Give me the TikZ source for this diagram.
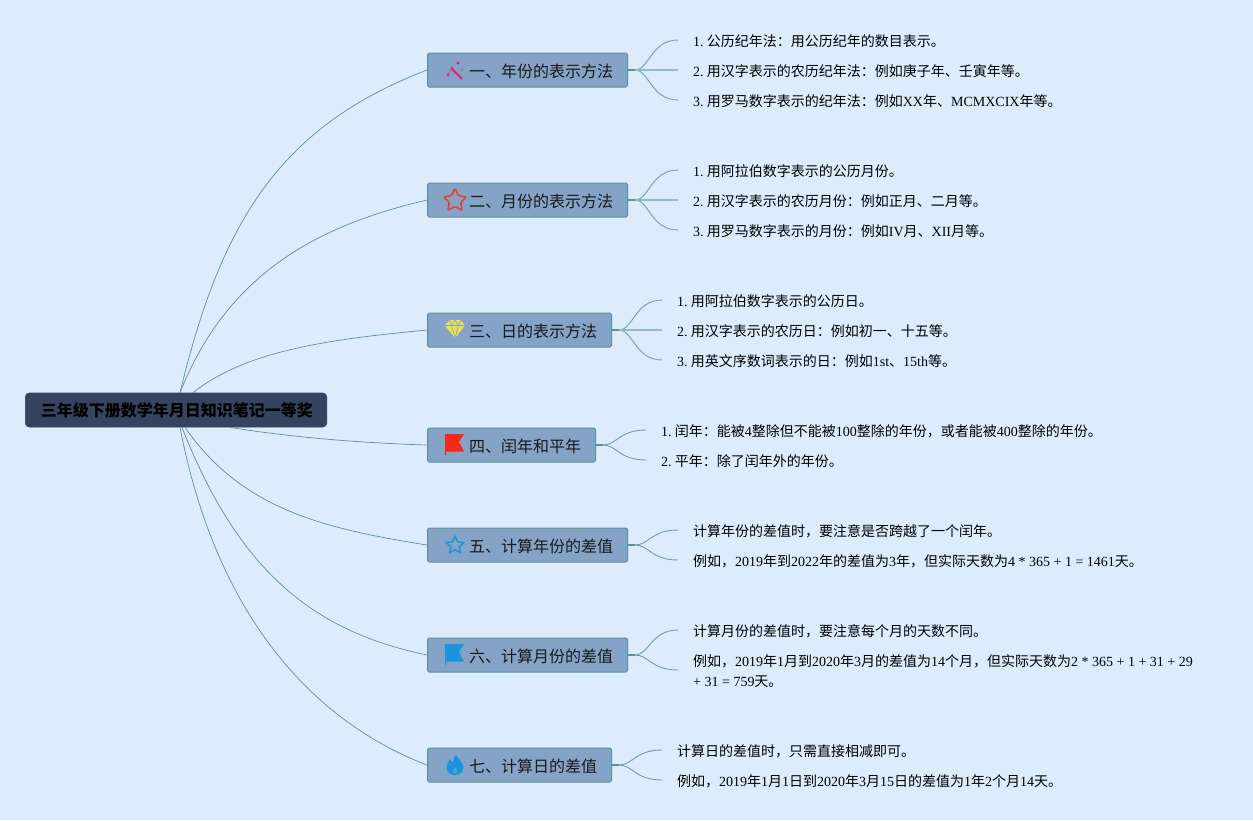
\documentclass[tikz,border=0pt]{standalone}
\usepackage{fontspec}
\usetikzlibrary{calc}
\setmainfont{Liberation Serif}
\newfontfamily\cjkr{Noto Sans CJK SC}
\newcommand{\cj}[1]{{\cjkr #1}}
\newcommand{\nm}[1]{#1\hspace{-1.5pt}}
\newcommand{\tlabel}[1]{\hspace*{26pt}\raisebox{-1pt}[\height][\depth]{#1}\hspace*{-1pt}}
\definecolor{bgc}{HTML}{DCECFD}
\definecolor{boxc}{HTML}{84A3C7}
\definecolor{edgec}{HTML}{5C9194}
\definecolor{twigc}{HTML}{6FA0A4}
\definecolor{midc}{HTML}{93BCBE}
\definecolor{rootc}{HTML}{36445F}
\definecolor{pinkc}{HTML}{E0246E}
\definecolor{redc}{HTML}{E5432F}
\definecolor{yelc}{HTML}{E8E34E}
\definecolor{flagr}{HTML}{F5291A}
\definecolor{bluec}{HTML}{1C93DE}
\tikzset{
  x=1pt,y=-1pt,
  rootbox/.style={draw=rootc,fill=rootc,rounded corners=4pt,line width=.6pt,anchor=west,minimum height=34pt,inner xsep=15.5pt,inner ysep=0pt,font=\fontsize{16}{20}\selectfont\cjkr\bfseries,text=black},
  topic/.style={draw=edgec,fill=boxc,rounded corners=1.5pt,line width=1pt,anchor=west,minimum height=34pt,inner xsep=15.5pt,inner ysep=0pt,font=\fontsize{16}{20}\selectfont\cjkr,text=black!90},
  leaf/.style={anchor=west,inner xsep=15pt,inner ysep=0pt,align=left,font=\fontsize{14}{20}\selectfont,text=black},
  mainline/.style={draw=edgec,line width=.7pt},
  twig/.style={draw=twigc,line width=.9pt},
  stub/.style={draw=edgec,line width=1.5pt},
  midtwig/.style={draw=midc,line width=1.3pt},
}
\begin{document}
\begin{tikzpicture}
\path[fill=bgc] (0,0) rectangle (1253,820);
\useasboundingbox (0,0) rectangle (1253,820);
% nodes
\node[rootbox] (root) at (25,410) {三年级下册数学年月日知识笔记一等奖\hspace*{-1.5pt}};
\node[topic] (t1) at (427,70) {\tlabel{一、年份的表示方法}};
\node[topic] (t2) at (427,200) {\tlabel{二、月份的表示方法}};
\node[topic] (t3) at (427,330) {\tlabel{三、日的表示方法}};
\node[topic] (t4) at (427,445) {\tlabel{四、闰年和平年}};
\node[topic] (t5) at (427,545) {\tlabel{五、计算年份的差值}};
\node[topic] (t6) at (427,655) {\tlabel{六、计算月份的差值}};
\node[topic] (t7) at (427,765) {\tlabel{七、计算日的差值}};
% leaves
\node[leaf] (a1) at (678,41) {\nm{1.} \cj{公历纪年法：用公历纪年的数目表示。}};
\node[leaf] (a2) at (678,71) {\nm{2.} \cj{用汉字表示的农历纪年法：例如庚子年、壬寅年等。}};
\node[leaf] (a3) at (678,101) {\nm{3.} \cj{用罗马数字表示的纪年法：例如}XX\cj{年、}MCMXCIX\cj{年等。}};
\node[leaf] (b1) at (678,171) {\nm{1.} \cj{用阿拉伯数字表示的公历月份。}};
\node[leaf] (b2) at (678,201) {\nm{2.} \cj{用汉字表示的农历月份：例如正月、二月等。}};
\node[leaf] (b3) at (678,231) {\nm{3.} \cj{用罗马数字表示的月份：例如}IV\cj{月、}XII\cj{月等。}};
\node[leaf] (c1) at (662,301) {\nm{1.} \cj{用阿拉伯数字表示的公历日。}};
\node[leaf] (c2) at (662,331) {\nm{2.} \cj{用汉字表示的农历日：例如初一、十五等。}};
\node[leaf] (c3) at (662,361) {\nm{3.} \cj{用英文序数词表示的日：例如}1st\cj{、}15th\cj{等。}};
\node[leaf] (d1) at (646,431) {\nm{1.} \cj{闰年：能被}4\cj{整除但不能被}100\cj{整除的年份，或者能被}400\cj{整除的年份。}};
\node[leaf] (d2) at (646,461) {\nm{2.} \cj{平年：除了闰年外的年份。}};
\node[leaf] (e1) at (678,531) {\cj{计算年份的差值时，要注意是否跨越了一个闰年。}};
\node[leaf] (e2) at (678,561) {\cj{例如，}2019\cj{年到}2022\cj{年的差值为}3\cj{年，但实际天数为}4 * 365 + 1 = 1461\cj{天。}};
\node[leaf] (f1) at (678,631) {\cj{计算月份的差值时，要注意每个月的天数不同。}};
\node[leaf] (f2) at (678,671) {\cj{例如，}2019\cj{年}1\cj{月到}2020\cj{年}3\cj{月的差值为}14\cj{个月，但实际天数为}2 * 365 + 1 + 31 + 29\\+ 31 = 759\cj{天。}};
\node[leaf] (g1) at (662,751) {\cj{计算日的差值时，只需直接相减即可。}};
\node[leaf] (g2) at (662,781) {\cj{例如，}2019\cj{年}1\cj{月}1\cj{日到}2020\cj{年}3\cj{月}15\cj{日的差值为}1\cj{年}2\cj{个月}14\cj{天。}};
% main connectors
\draw[mainline] ($(root.north west)+(155,0)$) .. controls +(42,-175) and ($(t1.west)+(-145,56)$) .. (t1.west);
\draw[mainline] ($(root.north west)+(155,0)$) .. controls +(48,-121) and ($(t2.west)+(-107,25)$) .. (t2.west);
\draw[mainline] ($(root.north west)+(168,0)$) .. controls +(52,-41) and ($(t3.west)+(-105,10)$) .. (t3.west);
\draw[mainline] ($(root.south west)+(205,0)$) .. controls +(60,10) and ($(t4.west)+(-65,-2)$) .. (t4.west);
\draw[mainline] ($(root.south west)+(160,0)$) .. controls +(57,83) and ($(t5.west)+(-100,-16)$) .. (t5.west);
\draw[mainline] ($(root.south west)+(157,0)$) .. controls +(58,148) and ($(t6.west)+(-110,-23)$) .. (t6.west);
\draw[mainline] ($(root.south west)+(155,0)$) .. controls +(40,208) and ($(t7.west)+(-97,-37)$) .. (t7.west);
% branch connectors
\foreach \p/\q in {t1/a1,t1/a3,t2/b1,t2/b3,t3/c1,t3/c3,t4/d1,t4/d2,t5/e1,t5/e2,t6/f1,t6/f2,t7/g1,t7/g2}{
  \draw[twig] ($(\p.east)+(7,0)$) .. controls ($(\p.east)+(21,0)$) and ($(\q.west)+(-27,-1)$) .. ($(\q.west)+(0,-1)$);
}
\foreach \p/\q in {t1/a2,t2/b2,t3/c2}{
  \draw[midtwig] (\p.east) -- (\p.east -| \q.west);
}
\foreach \p in {t1,t2,t3,t4,t5,t6,t7}{
  \draw[stub] (\p.east) -- ($(\p.east)+(7,0)$);
}
% icons
\begin{scope}[shift={(455,70)}]
  \draw[pinkc,line width=1.8pt] (-4,-2) -- (7,9);
  \draw[pinkc!60!boxc,line width=1pt] (-7,5) -- (-3,-2);
  \fill[pinkc] (3,-7) circle (1.6pt) (-7,5) circle (1.7pt) (-3,-2) circle (1.2pt);
  \fill[pinkc!70!boxc] (7,0) circle (.8pt);
\end{scope}
\begin{scope}[shift={(455,200)}]
  \draw[redc,line width=1.6pt,line join=round,rounded corners=1.5pt]
   (0,-12) -- (3.4,-4.2) -- (11.5,-3.2) -- (5.6,2.4) -- (7.2,10.5) -- (0,6.4) -- (-7.2,10.5) -- (-5.6,2.4) -- (-11.5,-3.2) -- (-3.4,-4.2) -- cycle;
\end{scope}
\begin{scope}[shift={(455,329)}]
  \fill[yelc] (-5.5,-9) -- (5.5,-9) -- (10,-3.5) -- (0,9) -- (-10,-3.5) -- cycle;
  \draw[boxc,line width=.6pt] (-10,-3.5) -- (10,-3.5) (-5.5,-9) -- (-3.5,-3.5) -- (0,9) -- (3.5,-3.5) -- (5.5,-9) (-3.5,-3.5) -- (0,-9) -- (3.5,-3.5);
\end{scope}
\begin{scope}[shift={(455,445)}]
  \fill[flagr] (-10,-11) -- (9,-11) -- (4,-3) -- (9,6.5) -- (-9,6.5) -- (-9,10) -- (-10,10) -- cycle;
\end{scope}
\begin{scope}[shift={(455,545)}]
  \draw[bluec,line width=1.4pt,line join=round]
   (0,-9) -- (2.6,-3.2) -- (9,-2.6) -- (4.2,1.7) -- (5.6,8) -- (0,4.7) -- (-5.6,8) -- (-4.2,1.7) -- (-9,-2.6) -- (-2.6,-3.2) -- cycle;
\end{scope}
\begin{scope}[shift={(455,655)}]
  \fill[bluec] (-10,-11) -- (9,-11) -- (4,-3) -- (9,6.5) -- (-9,6.5) -- (-9,10) -- (-10,10) -- cycle;
\end{scope}
\begin{scope}[shift={(455,765)}]
  \fill[bluec] (1,-10.5) .. controls (3,-6) and (8.5,-3) .. (8.5,3) .. controls (8.5,7) and (5,10) .. (0,10) .. controls (-5,10) and (-8.5,7) .. (-8.5,3) .. controls (-8.5,-1) and (-6,-3) .. (-5,-6) .. controls (-4,-4) and (-3,-3) .. (-2,-3) .. controls (-1,-6) and (-1,-9) .. (1,-10.5) -- cycle;
  \fill[boxc!60!bluec] (0,8.5) .. controls (-2,8.5) and (-2.5,6.5) .. (-2,5) .. controls (-1.5,4) and (0,3) .. (0,2) .. controls (1,3) and (2.5,4.5) .. (2,6) .. controls (1.8,7.5) and (1,8.5) .. (0,8.5) -- cycle;
\end{scope}
\end{tikzpicture}
\end{document}
